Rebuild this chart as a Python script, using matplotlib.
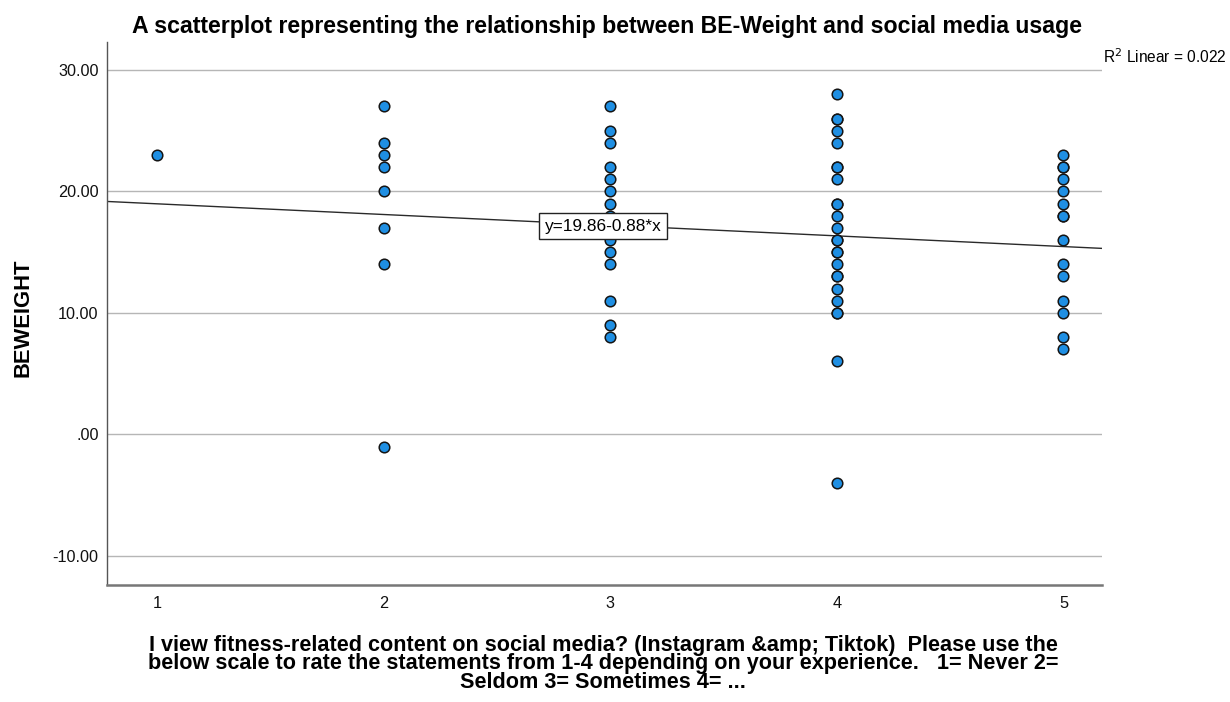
import matplotlib
matplotlib.use("Agg")
import matplotlib.pyplot as plt
import numpy as np

plt.rcParams["font.family"] = ["Liberation Sans", "DejaVu Sans"]

# BE-Weight scores grouped by response to the social media item (1-5)
usage_levels = [1, 2, 3, 4, 5]
beweight_by_level = [
    [23],
    [27, 24, 23, 22, 20, 17, 14, -1],
    [27, 25, 24, 22, 21, 20, 19, 18, 17, 16, 15, 14, 11, 9, 8],
    [28, 26, 26, 25, 24, 22, 22, 21, 19, 19, 18, 17, 16, 16, 15, 15, 14,
     13, 13, 12, 11, 10, 10, 6, -4],
    [23, 22, 22, 21, 20, 19, 18, 18, 16, 14, 13, 11, 10, 8, 7],
]

fit_intercept = 19.86
fit_slope = -0.88
r_squared = 0.022

y_ticks = [-10, 0, 10, 20, 30]
y_tick_labels = ["-10.00", ".00", "10.00", "20.00", "30.00"]

title = "A scatterplot representing the relationship between BE-Weight and social media usage"
x_label_lines = [
    "I view fitness-related content on social media? (Instagram &amp; Tiktok)  Please use the",
    "below scale to rate the statements from 1-4 depending on your experience.   1= Never 2=",
    "Seldom 3= Sometimes 4= ...",
]

x = np.concatenate([[lvl] * len(v) for lvl, v in zip(usage_levels, beweight_by_level)])
y = np.concatenate(beweight_by_level)

W, H = 1230, 702
fig = plt.figure(figsize=(W / 100, H / 100), dpi=100)
ax = fig.add_axes([107 / W, 1 - 585 / H, (1102 - 107) / W, (585 - 42) / H])

ax.set_xlim(0.78, 5.17)
ax.set_ylim(-12.4, 32.3)

for yt in y_ticks:
    ax.axhline(yt, color="#b6b6b6", lw=1.0, zorder=1)

# fit line over the full x range
xs = np.array(ax.get_xlim())
ax.plot(xs, fit_intercept + fit_slope * xs, color="#2a2a2a", lw=1.0, zorder=2)

ax.scatter(x, y, s=58, facecolor="#1f8fe3", edgecolor="#151515", linewidths=1.1, zorder=3)

bx = 2.97
ax.text(bx, fit_intercept + fit_slope * bx - 0.1, f"y={fit_intercept:.2f}{fit_slope:.2f}*x",
        ha="center", va="center", fontsize=12.4, zorder=4,
        bbox=dict(boxstyle="square,pad=0.33", facecolor="white", edgecolor="#222222", lw=1.0))

ax.set_yticks(y_ticks)
ax.set_yticklabels(y_tick_labels)
ax.set_xticks(usage_levels)
ax.set_xticklabels([str(v) for v in usage_levels])
ax.tick_params(axis="both", length=0, labelsize=11.7, colors="#111111")
ax.tick_params(axis="y", pad=6)
ax.tick_params(axis="x", pad=8)

for side in ("top", "right"):
    ax.spines[side].set_visible(False)
ax.spines["left"].set_color("#555555")
ax.spines["left"].set_linewidth(1.0)
ax.spines["bottom"].set_color("#777777")
ax.spines["bottom"].set_linewidth(1.8)

fig.text(606.5 / W, 1 - 33 / H, title, fontsize=16.7, fontweight="bold",
         ha="center", va="baseline")
fig.text(23 / W, 1 - 318 / H, "BEWEIGHT", fontsize=15.8, fontweight="bold",
         rotation=90, ha="center", va="center")
# baseline here is that of the last line
fig.text(603 / W, 1 - 688 / H, "\n".join(x_label_lines), fontsize=15.6, fontweight="bold",
         ha="center", va="baseline", multialignment="center", linespacing=0.85)

fig.text(1103 / W, 1 - 63 / H, f"R$^2$ Linear = {r_squared:.3f}", fontsize=11.2,
         ha="left", va="baseline")

fig.savefig("out.png", dpi=100)
